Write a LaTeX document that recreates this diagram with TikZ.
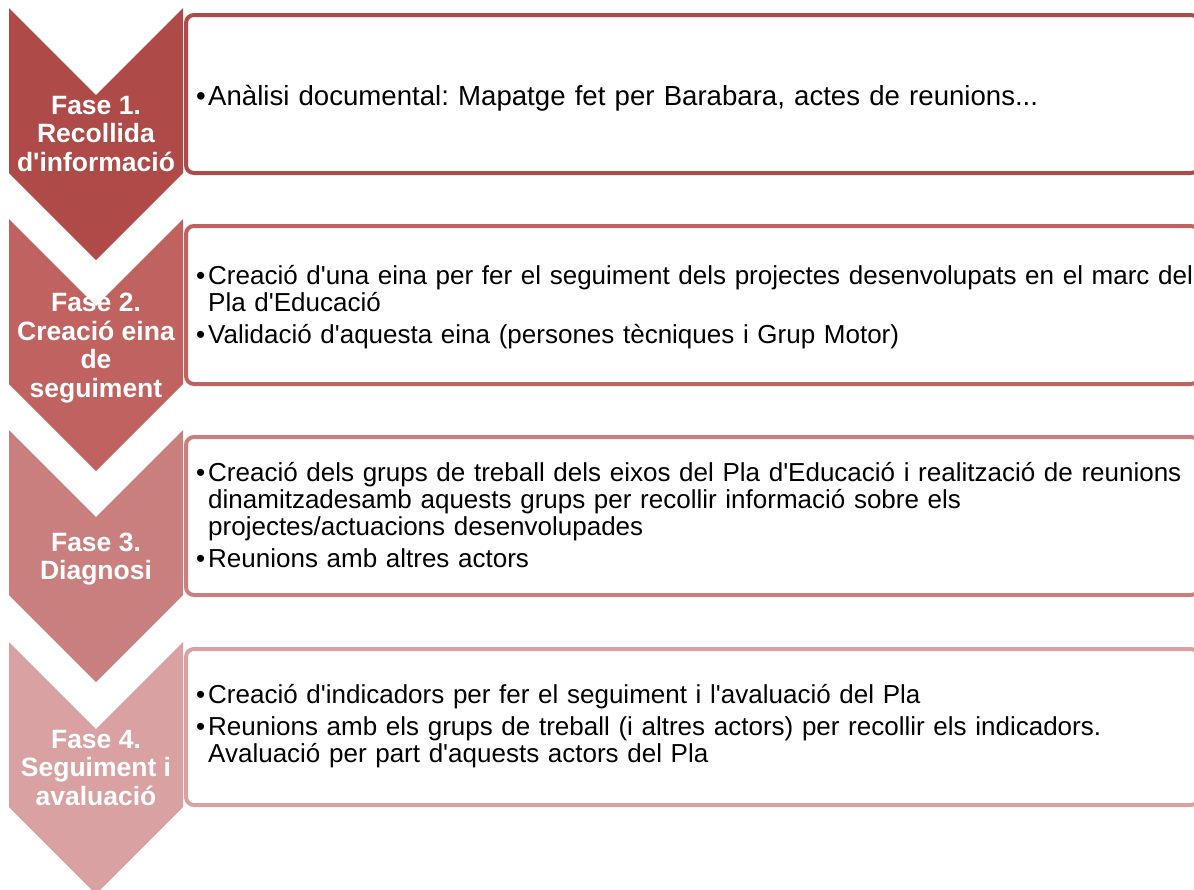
\documentclass[tikz,border=0pt]{standalone}
\usepackage{fontspec}
\setmainfont{Liberation Sans}[Ligatures=TeXOff]
\usepackage{xcolor}
\usepackage{tikz}
\usetikzlibrary{shapes,calc}
\frenchspacing

\definecolor{faseOne}{RGB}{174,74,71}
\definecolor{faseTwo}{RGB}{192,98,95}
\definecolor{faseThree}{RGB}{201,127,126}
\definecolor{faseFour}{RGB}{217,161,161}

\tikzstyle{tsPhaseText} = [ 
    text=white, 
    font=\bfseries\fontsize{26.5}{28.5}\selectfont,
    align=center,
    inner sep=0pt
]
\tikzstyle{tsBullets} = [ 
    text=black, 
    font=\fontsize{26}{27}\selectfont,
    text width=1100pt,
    align=left,
    anchor=west,
    inner sep=0pt
]
\tikzstyle{tsRoundedBox} = [ 
    rectangle,
    rounded corners=8pt,
    fill=white,
    line width=4pt,
    minimum width=1013pt,
    minimum height=158pt,
    anchor=north west,
    inner sep=0pt
]

\newcommand{\bitem}[1]{\par\hangindent=12pt\hangafter=1\noindent\makebox[12pt][l]{•}#1\par}
\newcommand{\bgap}{\vspace{5pt}}

\begin{document}
\begin{tikzpicture} [x=1pt, y=-1pt]

        \useasboundingbox (0,0) rectangle (1194,889);
        \clip (0,0) rectangle (1194,889);

        % Boxes behind the chevrons
        \node[tsRoundedBox, draw=faseOne] (b1) at (184,13) {};
        \node[tsRoundedBox, draw=faseTwo] (b2) at (184,224) {};
        \node[tsRoundedBox, draw=faseThree] (b3) at (184,435) {};
        \node[tsRoundedBox, draw=faseFour, minimum height=156pt] (b4) at (184,647) {};

        % Chevrons
        \fill[faseOne] (9,8) -- (96,95) -- (183,8) -- (183,173) -- (96,260) -- (9,173) -- cycle;
        \fill[faseTwo] (9,219) -- (96,306) -- (183,219) -- (183,384) -- (96,471) -- (9,384) -- cycle;
        \fill[faseThree] (9,430) -- (96,517) -- (183,430) -- (183,595) -- (96,682) -- (9,595) -- cycle;
        \fill[faseFour] (9,642) -- (96,729) -- (183,642) -- (183,807) -- (96,894) -- (9,807) -- cycle;

        % Phase labels
        \node[tsPhaseText] (f1) at (96,134) {Fase 1.\\Recollida\\d'informació};
        \node[tsPhaseText] (f2) at (96,348) {Fase 2.\\Creació eina\\de\\seguiment};
        \node[tsPhaseText] (f3) at (96,559) {Fase 3.\\Diagnosi};
        \node[tsPhaseText] (f4) at (96,768) {Fase 4.\\Seguiment i\\avaluació};

        % Bullet texts
        \node[tsBullets, font=\fontsize{27.6}{28}\selectfont] (t1) at (196,94) {%
            \bitem{Anàlisi documental: Mapatge fet per Barabara, actes de reunions...}};
        \node[tsBullets] (t2) at (196,303) {%
            \bitem{Creació d'una eina per fer el seguiment dels projectes desenvolupats en el marc del\newline Pla d'Educació}\bgap
            \bitem{Validació d'aquesta eina (persones tècniques i Grup Motor)}};
        \node[tsBullets] (t3) at (196,511) {%
            \bitem{Creació dels grups de treball dels eixos del Pla d'Educació i realització de reunions\newline dinamitzadesamb aquests grups per recollir informació sobre els\newline projectes/actuacions desenvolupades}\bgap
            \bitem{Reunions amb altres actors}};
        \node[tsBullets] (t4) at (196,722) {%
            \bitem{Creació d'indicadors per fer el seguiment i l'avaluació del Pla}\bgap
            \bitem{Reunions amb els grups de treball (i altres actors) per recollir els indicadors.\newline Avaluació per part d'aquests actors del Pla}};

    \end{tikzpicture}
\end{document}
